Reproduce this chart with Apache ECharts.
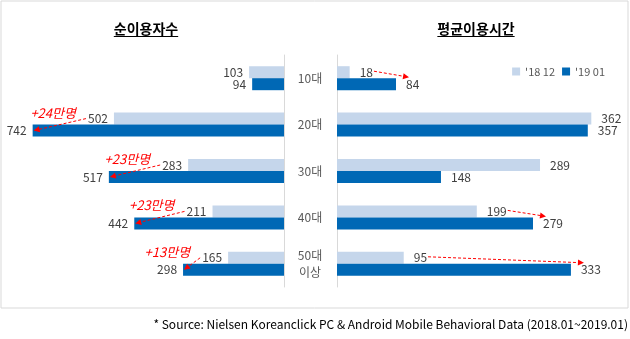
<!DOCTYPE html>
<html>
<head>
<meta charset="utf-8">
<script src="https://cdn.jsdelivr.net/npm/echarts@6/dist/echarts.min.js"></script>
<style>
html,body{margin:0;padding:0;background:#fff}
#main{width:630px;height:339px}
</style>
</head>
<body>
<div id="main"></div>
<script>
// Age groups and the two months being compared
const ageGroups = ['10대', '20대', '30대', '40대', '50대\n이상'];
const seriesNames = ["'18 12", "'19 01"];
// Unique users (만명)
const usersDec = [103, 502, 283, 211, 165];
const usersJan = [94, 742, 517, 442, 298];
// Average usage time
const timeDec = [18, 362, 289, 199, 95];
const timeJan = [84, 357, 148, 279, 333];
// Growth notes on the unique-users side, and rows that get a trend arrow on the time side
const userGainNotes = [null, '+24만명', '+23만명', '+23만명', '+13만명'];
const timeArrowRows = [0, 3, 4];
const titles = ['순이용자수', '평균이용시간'];
const sourceNote = '* Source: Nielsen Koreanclick PC & Android Mobile Behavioral Data (2018.01~2019.01)';

const FONT = '"Noto Sans CJK KR", "Noto Sans", sans-serif';
const LIGHT = '#c5d6eb';
const DARK = '#0068b5';
const RED = '#ff0000';

const chart = echarts.init(document.getElementById('main'), null, {renderer: 'canvas'});

function barLabel(pos, dist) {
  return {show: true, position: pos, distance: dist, fontSize: 12, color: '#404040', fontFamily: FONT};
}

chart.setOption({
  animation: false,
  textStyle: {fontFamily: FONT},
  legend: {
    right: 20, top: 61, itemWidth: 8, itemHeight: 8, itemGap: 7, icon: 'rect',
    textStyle: {fontSize: 11, color: '#595959', fontFamily: FONT},
    data: seriesNames
  },
  grid: [
    {left: 13, top: 55, width: 271, height: 232},
    {left: 337, top: 55, width: 281, height: 232}
  ],
  xAxis: [
    {gridIndex: 0, type: 'value', min: 0, max: 800, inverse: true, show: false},
    {gridIndex: 1, type: 'value', min: 0, max: 400, show: false}
  ],
  yAxis: [
    {gridIndex: 0, type: 'category', data: ageGroups, inverse: true, position: 'right',
     axisLine: {lineStyle: {color: '#d9d9d9', width: 1}}, axisTick: {show: false}, axisLabel: {show: false}},
    {gridIndex: 1, type: 'category', data: ageGroups, inverse: true, position: 'left',
     axisLine: {lineStyle: {color: '#d9d9d9', width: 1}}, axisTick: {show: false},
     axisLabel: {margin: 27, align: 'center', color: '#595959', fontSize: 12, lineHeight: 17, fontFamily: FONT}}
  ],
  series: [
    {name: seriesNames[0], type: 'bar', xAxisIndex: 0, yAxisIndex: 0, data: usersDec, barWidth: 12, barGap: '0%',
     itemStyle: {color: LIGHT}, label: barLabel('left', 6)},
    {name: seriesNames[1], type: 'bar', xAxisIndex: 0, yAxisIndex: 0, data: usersJan, barWidth: 12, barGap: '0%',
     itemStyle: {color: DARK}, label: barLabel('left', 6)},
    {name: seriesNames[0], type: 'bar', xAxisIndex: 1, yAxisIndex: 1, data: timeDec, barWidth: 12, barGap: '0%',
     itemStyle: {color: LIGHT}, label: barLabel('right', 10)},
    {name: seriesNames[1], type: 'bar', xAxisIndex: 1, yAxisIndex: 1, data: timeJan, barWidth: 12, barGap: '0%',
     itemStyle: {color: DARK}, label: barLabel('right', 10)}
  ]
});

// Text measuring for annotation placement
const ctx = document.createElement('canvas').getContext('2d');
function textWidth(str, font) { ctx.font = font; return ctx.measureText(str).width; }
const labelFont = '12px ' + FONT;

function px(grid, value, row) {
  return chart.convertToPixel({xAxisIndex: grid, yAxisIndex: grid}, [value, row]);
}

// Dashed red arrow drawn above the bars
function arrow(x1, y1, x2, y2) {
  const ang = Math.atan2(y2 - y1, x2 - x1), L = 6, W = 3;
  const bx = x2 - L * Math.cos(ang), by = y2 - L * Math.sin(ang);
  return [
    {type: 'line', silent: true, z: 100, shape: {x1: x1, y1: y1, x2: bx, y2: by},
     style: {stroke: RED, lineWidth: 1, lineDash: [3, 2]}},
    {type: 'polygon', silent: true, z: 100, shape: {points: [[x2, y2],
      [bx + W * Math.sin(ang), by - W * Math.cos(ang)],
      [bx - W * Math.sin(ang), by + W * Math.cos(ang)]]}, style: {fill: RED}}
  ];
}

const graphics = [];
// Outer frame
graphics.push({type: 'rect', silent: true, shape: {x: 1, y: 1, width: 627, height: 307},
  style: {fill: 'none', stroke: '#d9d9d9', lineWidth: 1}});

// Panel titles with underline
const titleFont = 'bold 14px ' + FONT;
[[titles[0], 146], [titles[1], 476]].forEach(function (t) {
  const w = textWidth(t[0], titleFont);
  graphics.push({type: 'text', silent: true, x: t[1], y: 29,
    style: {text: t[0], font: titleFont, fill: '#000', align: 'center', verticalAlign: 'middle'}});
  graphics.push({type: 'line', silent: true, shape: {x1: t[1] - w / 2, y1: 36.5, x2: t[1] + w / 2, y2: 36.5},
    style: {stroke: '#000', lineWidth: 1}});
});

// Source line
graphics.push({type: 'text', silent: true, x: 628, y: 324,
  style: {text: sourceNote, font: '12px ' + FONT, fill: '#000', align: 'right', verticalAlign: 'middle'}});

// Unique users: arrow from the Dec label to the Jan bar end, with growth note
userGainNotes.forEach(function (note, i) {
  if (!note) return;
  const pl = px(0, usersDec[i], i), pd = px(0, usersJan[i], i);
  const ly = pl[1] - 6, dy = pd[1] + 6;
  const sx = pl[0] - 6 - textWidth(String(usersDec[i]), labelFont) - 2;
  graphics.push.apply(graphics, arrow(sx, ly, pd[0] + 1, dy));
  graphics.push({type: 'text', silent: true, z: 100, x: sx - 10, y: ly - 6,
    style: {text: note, font: 'italic 13px ' + FONT, fill: RED, align: 'right', verticalAlign: 'middle'}});
});

// Average time: arrow from the Dec label toward the Jan bar
timeArrowRows.forEach(function (i) {
  const pl = px(1, timeDec[i], i), pd = px(1, timeJan[i], i);
  const ly = pl[1] - 6, dTop = pd[1];
  const sx = pl[0] + 10 + textWidth(String(timeDec[i]), labelFont) + 1;
  graphics.push.apply(graphics, arrow(sx, ly - 1, pd[0] + 13, dTop - 1));
});

chart.setOption({graphic: graphics});
</script>
</body>
</html>
